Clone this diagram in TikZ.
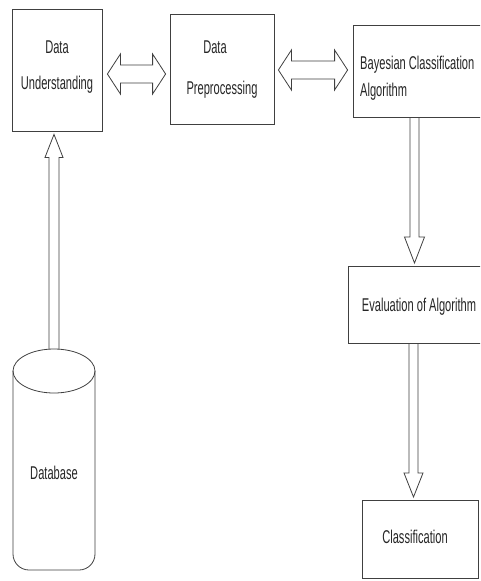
\documentclass[tikz,border=0pt]{standalone}
\usepackage{fontspec}
\setmainfont[FakeStretch=0.6]{Liberation Sans}
\usetikzlibrary{calc}
\begin{document}
\begin{tikzpicture}[x=1pt,y=-1pt,
  ln/.style={draw=black!75, line width=0.8pt},
  box/.style={ln, rectangle, inner sep=0pt},
  txt/.style={inner sep=0pt, text=black!85, font=\fontsize{18.5}{22}\selectfont}]
\useasboundingbox (0,0) rectangle (480,581);
\clip (0,0) rectangle (480,581);
\fill[white] (0,0) rectangle (480,581);
% boxes
\node[box, minimum width=90pt, minimum height=122pt] (du) at (57,70) {};
\node[box, minimum width=104pt, minimum height=110pt] (dp) at (222,69) {};
\node[box, minimum width=134pt, minimum height=92pt] (bc) at (420,71) {};
\node[box, minimum width=138pt, minimum height=77pt] (ev) at (417,304.5) {};
\node[box, minimum width=116pt, minimum height=78pt] (cl) at (420,539) {};
% texts
\node[txt] (duA) at (57,47) {Data};
\node[txt] (duB) at (57,85) {Understanding};
\node[txt] (dpA) at (215,47) {Data};
\node[txt] (dpB) at (222,90) {Preprocessing};
\node[txt, anchor=west] (bcA) at (360,65) {Bayesian Classification};
\node[txt, anchor=west] (bcB) at (360,92) {Algorithm};
\node[txt] (evA) at (419,307) {Evaluation of Algorithm};
\node[txt] (clA) at (415,537) {Classification};
% database cylinder
\coordinate (dbtop) at (54,349);
\draw[ln, rounded corners=16pt] (13,371) -- (13,570) -- (95,570) -- (95,371);
\draw[ln] (54,371) ellipse [x radius=41, y radius=22];
\node[txt] (db) at (54,473) {Database};
% double arrows
\newcommand\HDouble[2]{%
  \draw[ln, line join=miter] (#1) -- ($(#1)+(13,-20)$) -- ($(#1)+(13,-9)$) -- ($(#2)+(-13,-9)$) -- ($(#2)+(-13,-20)$) -- (#2)
    -- ($(#2)+(-13,20)$) -- ($(#2)+(-13,9)$) -- ($(#1)+(13,9)$) -- ($(#1)+(13,20)$) -- cycle;}
\coordinate (a1L) at ($(du.east)+(5,4)$);
\coordinate (a1R) at ($(dp.west)+(-4,5)$);
\coordinate (a2L) at ($(dp.east)+(4,1)$);
\coordinate (a2R) at ($(bc.west)+(-5,-1)$);
\HDouble{a1L}{a1R}
\HDouble{a2L}{a2R}
% vertical arrows: start, tip, shaft half, head half, head length (sign gives direction)
\newcommand\VArrow[5]{%
  \draw[ln, line join=miter] ($(#1)+(-#3,0)$) -- ($(#2)+(-#3,#5)$) -- ($(#2)+(-#4,#5)$) -- (#2)
    -- ($(#2)+(#4,#5)$) -- ($(#2)+(#3,#5)$) -- ($(#1)+(#3,0)$);}
\coordinate (v1s) at (414.5,117);
\coordinate (v1t) at (v1s |- 0,263);
\coordinate (v2s) at (413.5,343);
\coordinate (v2t) at (v2s |- 0,497);
\coordinate (v3t) at ($(du.south)+(-3,3)$);
\VArrow{v1s}{v1t}{4.5}{10}{-26}
\VArrow{v2s}{v2t}{4.5}{9.5}{-24}
\VArrow{dbtop}{dbtop |- v3t}{5}{9}{23}
\end{tikzpicture}
\end{document}
